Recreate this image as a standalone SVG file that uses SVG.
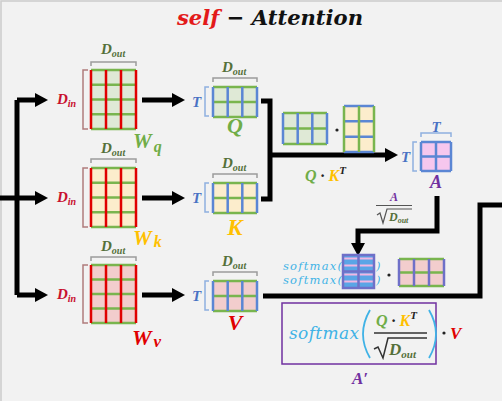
<svg xmlns="http://www.w3.org/2000/svg" width="502" height="401" viewBox="0 0 502 401">
<defs>
<style>
.lbl{font-family:"Liberation Serif","DejaVu Serif",serif;font-style:italic;font-weight:bold}
.dout{fill:#55703a;font-size:15px}
.din{fill:#c8102e;font-size:15px}
.sub{font-size:10px}
.tl{fill:#4a72c4;font-size:15px}
.br{fill:none;stroke:#9c9c9c;stroke-width:1.5}
.brr{fill:none;stroke:#b07c7c;stroke-width:1.5}
.brb{fill:none;stroke:#8fb0e0;stroke-width:1.5}
.conn{fill:none;stroke:#000;stroke-width:5;stroke-linejoin:miter}
.ah{fill:#000}
.lr{fill:none;stroke:#e00000;stroke-width:2.5}
.lg{fill:none;stroke:#79b54e;stroke-width:2.5}
.lb{fill:none;stroke:#5b86d4;stroke-width:2.5}
.lp{fill:none;stroke:#6f70c8;stroke-width:2.5}
.fg{fill:#dfe9d6}
.fy{fill:#fcedcc}
.fr{fill:#f2cdcd}
.fm{fill:#f6c7ee}
.cy{fill:#3fb2e6;font-family:"DejaVu Serif","Liberation Serif",serif;font-style:italic}
.ttl{font-family:"DejaVu Serif","Liberation Serif",serif;font-style:italic;font-weight:bold}
</style>
</defs>
<rect x="0" y="0" width="502" height="401" fill="#f2f2f2"/>
<path d="M1,401V1H502" fill="none" stroke="#cccccc" stroke-width="1.5"/>

<g id="title">
<text class="ttl" x="177" y="25" font-size="21" textLength="186" lengthAdjust="spacingAndGlyphs"><tspan fill="#e31a1a">self</tspan><tspan fill="#111"> − Attention</tspan></text>
</g>

<g id="connectors">
<path class="conn" d="M0,198H17M17,100V295M17,100H36M17,198H36M17,295H36"/>
<polygon class="ah" points="35,93 48,100 35,107"/>
<polygon class="ah" points="35,191 48,198 35,205"/>
<polygon class="ah" points="35,288 48,295 35,302"/>
<path class="conn" d="M142,100H173M142,198H173M142,295H173"/>
<polygon class="ah" points="172,93 185,100 172,107"/>
<polygon class="ah" points="172,191 185,198 172,205"/>
<polygon class="ah" points="172,288 185,295 172,302"/>
<path class="conn" d="M261,101H270V199H261M270,155H386"/>
<polygon class="ah" points="385,148 398,155 385,162"/>
<path class="conn" d="M437,196V231H358V244"/>
<polygon class="ah" points="351,243 365,243 358,256"/>
<path class="conn" d="M263,296H480V205H502"/>
</g>

<g id="Wq">
<text class="lbl dout" x="101" y="54">D<tspan class="sub" dy="3">out</tspan></text>
<path class="br" d="M91,66V62H136V66"/>
<text class="lbl din" x="57" y="104">D<tspan class="sub" dy="3">in</tspan></text>
<path class="brr" d="M88,70H83V129H88"/>
<rect class="fg" x="91" y="70" width="45" height="59"/>
<path class="lg" d="M91,70H136M91,84.75H136M91,99.5H136M91,114.25H136M91,129H136"/>
<path class="lr" d="M91,70V129M106,70V129M121,70V129M136,70V129"/>
<text class="lbl" x="133" y="148" font-size="21" fill="#70ad47">W<tspan font-size="16" dx="2" dy="4">q</tspan></text>
</g>

<g id="Wk">
<text class="lbl dout" x="101" y="153">D<tspan class="sub" dy="3">out</tspan></text>
<path class="br" d="M91,163V159H136V163"/>
<text class="lbl din" x="57" y="202">D<tspan class="sub" dy="3">in</tspan></text>
<path class="brr" d="M88,168H83V227H88"/>
<rect class="fy" x="91" y="168" width="45" height="59"/>
<path class="lg" d="M91,168H136M91,182.75H136M91,197.5H136M91,212.25H136M91,227H136"/>
<path class="lr" d="M91,168V227M106,168V227M121,168V227M136,168V227"/>
<text class="lbl" x="133" y="245" font-size="21" fill="#ffc000">W<tspan font-size="16" dx="2" dy="2">k</tspan></text>
</g>

<g id="Wv">
<text class="lbl dout" x="101" y="251">D<tspan class="sub" dy="3">out</tspan></text>
<path class="br" d="M91,261V257H136V261"/>
<text class="lbl din" x="57" y="299">D<tspan class="sub" dy="3">in</tspan></text>
<path class="brr" d="M88,265H83V323H88"/>
<rect class="fr" x="91" y="265" width="45" height="58"/>
<path class="lg" d="M91,265H136M91,279.5H136M91,294H136M91,308.5H136M91,323H136"/>
<path class="lr" d="M91,265V323M106,265V323M121,265V323M136,265V323"/>
<text class="lbl" x="132" y="345" font-size="22" fill="#e00000">W<tspan font-size="17" dx="2" dy="2">v</tspan></text>
</g>

<g id="Q">
<text class="lbl dout" x="222" y="72">D<tspan class="sub" dy="3">out</tspan></text>
<path class="br" d="M213,82V78H257V82"/>
<text class="lbl tl" x="192" y="107">T</text>
<path class="brb" d="M209,87H205V116H209"/>
<rect class="fg" x="213" y="87" width="44" height="30"/>
<path class="lg" d="M213,87H257M213,102H257M213,117H257"/>
<path class="lb" d="M213,87V117M227.7,87V117M242.3,87V117M257,87V117"/>
<text class="lbl" x="235" y="133" font-size="22" fill="#70ad47" text-anchor="middle">Q</text>
</g>

<g id="K">
<text class="lbl dout" x="222" y="168">D<tspan class="sub" dy="3">out</tspan></text>
<path class="br" d="M213,178V174H257V178"/>
<text class="lbl tl" x="192" y="203">T</text>
<path class="brb" d="M209,183H205V212H209"/>
<rect class="fy" x="213" y="183" width="44" height="30"/>
<path class="lg" d="M213,183H257M213,198H257M213,213H257"/>
<path class="lb" d="M213,183V213M227.7,183V213M242.3,183V213M257,183V213"/>
<text class="lbl" x="235" y="235" font-size="23" fill="#ffc000" text-anchor="middle">K</text>
</g>

<g id="V">
<text class="lbl dout" x="222" y="266">D<tspan class="sub" dy="3">out</tspan></text>
<path class="br" d="M213,276V272H257V276"/>
<text class="lbl tl" x="192" y="301">T</text>
<path class="brb" d="M209,281H205V310H209"/>
<rect class="fr" x="213" y="281" width="44" height="30"/>
<path class="lg" d="M213,281H257M213,296H257M213,311H257"/>
<path class="lb" d="M213,281V311M227.7,281V311M242.3,281V311M257,281V311"/>
<text class="lbl" x="235" y="330" font-size="22" fill="#e00000" text-anchor="middle">V</text>
</g>

<g id="QKt">
<rect class="fg" x="283" y="113" width="44" height="31"/>
<path class="lg" d="M283,113H327M283,128.5H327M283,144H327"/>
<path class="lb" d="M283,113V144M297.7,113V144M312.3,113V144M327,113V144"/>
<circle cx="337" cy="130" r="1.6" fill="#222"/>
<rect class="fy" x="344" y="106" width="30" height="46"/>
<path class="lb" d="M344,106H374M344,121.3H374M344,136.7H374M344,152H374"/>
<path class="lg" d="M344,106V152M359,106V152M374,106V152"/>
<text class="lbl" x="305" y="181" font-size="16"><tspan fill="#70ad47">Q</tspan><tspan fill="#222"> · </tspan><tspan fill="#ffc000">K</tspan><tspan fill="#222" font-size="11" dy="-7">T</tspan></text>
</g>

<g id="A">
<text class="lbl tl" x="436" y="132" text-anchor="middle">T</text>
<path class="brb" d="M421,137V133H451V137"/>
<text class="lbl tl" x="401" y="162">T</text>
<path class="brb" d="M417,142H413V171H417"/>
<rect class="fm" x="421" y="142" width="30" height="29"/>
<path class="lb" d="M421,142H451M421,156.5H451M421,171H451M421,142V171M436,142V171M451,142V171"/>
<text class="lbl" x="436" y="188" font-size="18" fill="#7030a0" text-anchor="middle">A</text>
</g>

<g id="scale">
<text class="lbl" x="394" y="201" font-size="12" fill="#7030a0" text-anchor="middle">A</text>
<path d="M376,205.5H412" stroke="#555" stroke-width="1.2"/>
<path d="M377,215L380,213L383,223L387,209H412" fill="none" stroke="#555" stroke-width="1.2"/>
<text class="lbl" x="389" y="221" font-size="12" fill="#55703a">D<tspan font-size="8" dy="2">out</tspan></text>
</g>

<g id="softmax-term">
<text class="cy" x="283" y="269.5" font-size="11.5" textLength="59" lengthAdjust="spacing">softmax(</text>
<text class="cy" x="283" y="284" font-size="11.5" textLength="59" lengthAdjust="spacing">softmax(</text>
<rect x="343" y="255" width="31" height="33" fill="#5aa5e6"/>
<path d="M344,258.5H373M344,265.5H373M344,274.5H373M344,281.5H373" stroke="#f2b6e2" stroke-width="2"/>
<path class="lp" d="M343,255H374V288H343ZM343,271.5H374M358.5,255V288"/>
<text class="cy" x="376" y="269.5" font-size="11.5">)</text>
<text class="cy" x="376" y="284" font-size="11.5">)</text>
<circle cx="389" cy="275" r="1.6" fill="#222"/>
<rect class="fr" x="399" y="259" width="45" height="27"/>
<path class="lg" d="M399,259H444M399,272.5H444M399,286H444"/>
<path class="lp" d="M399,259V286M414,259V286M429,259V286M444,259V286"/>
</g>

<g id="formula">
<rect x="282" y="303" width="154" height="61" fill="none" stroke="#7030a0" stroke-width="1.5"/>
<text class="cy" x="289" y="339" font-size="17" textLength="70" lengthAdjust="spacing">softmax</text>
<path d="M370,310Q356,334 370,358M429,310Q443,334 429,358" fill="none" stroke="#3fb2e6" stroke-width="1.8"/>
<text class="lbl" x="376" y="326" font-size="16"><tspan fill="#70ad47">Q</tspan><tspan fill="#222"> · </tspan><tspan fill="#ffc000">K</tspan><tspan fill="#222" font-size="11" dy="-7">T</tspan></text>
<path d="M374,333H427" stroke="#333" stroke-width="1.5"/>
<path d="M374,349L378,347L383,358L388,338H427" fill="none" stroke="#333" stroke-width="1.5"/>
<text class="lbl" x="389" y="355" font-size="17" fill="#55703a">D<tspan font-size="11" dy="3">out</tspan></text>
<circle cx="444" cy="333" r="1.6" fill="#222"/>
<text class="lbl" x="450" y="339" font-size="17" fill="#e00000">V</text>
<text class="lbl" x="360" y="384" font-size="17" fill="#7030a0" text-anchor="middle">A′</text>
</g>
</svg>
